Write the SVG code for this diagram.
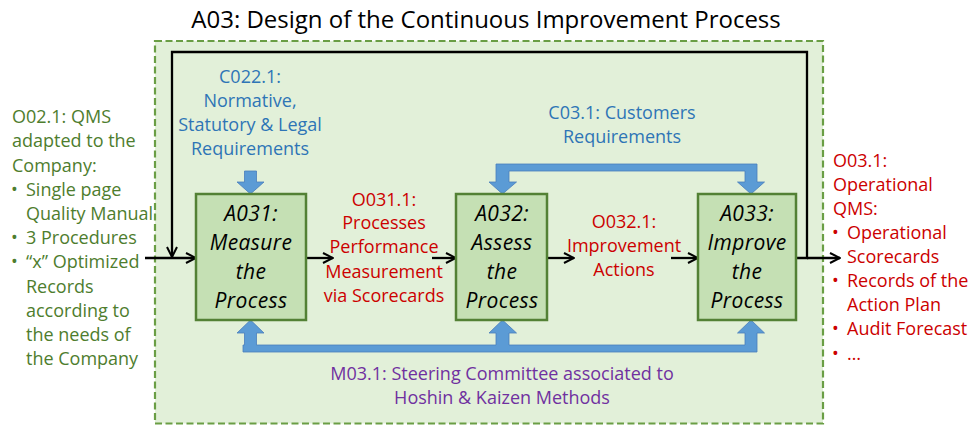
<svg xmlns="http://www.w3.org/2000/svg" width="968" height="425" viewBox="0 0 968 425">
<defs>
<style>
text{font-family:"Open Sans","Noto Sans","Liberation Sans",sans-serif;font-size:18px}
.title{font-size:24px;fill:#000}
.g{fill:#4E7D2E}
.r{fill:#CC0000}
.b{fill:#2E75B6}
.p{fill:#7030A0}
.c{text-anchor:middle}
.lbl{font-style:italic;font-size:21px;letter-spacing:0.4px;fill:#000;text-anchor:middle}
.box{fill:#C5E0B4;stroke:#538135;stroke-width:2.5}
.ln{fill:none;stroke:#000;stroke-width:2.3}
.blue{fill:#5B9BD5;stroke:#4A7EBB;stroke-width:0.8}
</style>
<marker id="ah" viewBox="0 0 12 12" refX="11" refY="6" markerWidth="12" markerHeight="12" markerUnits="userSpaceOnUse" orient="auto">
<path d="M1,1 L11,6 L1,11" fill="none" stroke="#000" stroke-width="2"/>
</marker>
</defs>
<rect width="968" height="425" fill="#fff"/>
<text class="title c" x="486" y="28">A03: Design of the Continuous Improvement Process</text>
<rect id="boundary" x="155" y="41" width="668" height="382.5" fill="#E2F0D9" stroke="#6A9E45" stroke-width="2.2" stroke-dasharray="7,3.5"/>

<g id="connectors">
<line class="ln" x1="145" y1="258" x2="196" y2="258" marker-end="url(#ah)"/>
<polyline class="ln" points="796,258 807,258 807,52 172,52 172,257" marker-end="url(#ah)"/>
<line class="ln" x1="807" y1="258" x2="840" y2="258" marker-end="url(#ah)"/>
<line class="ln" x1="306" y1="258" x2="333" y2="258" marker-end="url(#ah)"/>
<line class="ln" x1="432" y1="258" x2="456" y2="258" marker-end="url(#ah)"/>
<line class="ln" x1="547" y1="258" x2="574" y2="258" marker-end="url(#ah)"/>
<line class="ln" x1="671" y1="258" x2="698" y2="258" marker-end="url(#ah)"/>
<path id="c022" class="blue" d="M244.5,171 H256.5 V182 H264 L250.5,194 L237,182 H244.5 Z"/>
<path id="c03" class="blue" d="M496,164 H757 V182 H764.5 L751,194 L737.5,182 H745 V171 H509 V182 H516.5 L502.5,194 L489,182 H496 Z"/>
<path id="m03" class="blue" d="M243,352 H757 V333 H764.5 L751,320 L737.5,333 H745 V345 H509 V333 H516.5 L502.5,320 L489,333 H496 V345 H256.5 V333 H264 L250.5,320 L237,333 H244.5 V345 H243 Z"/>
</g>

<g id="A031">
<rect class="box" x="196" y="194" width="110" height="126"/>
<text class="lbl" x="251" y="221">A031:</text>
<text class="lbl" x="251" y="250">Measure</text>
<text class="lbl" x="251" y="279">the</text>
<text class="lbl" x="251" y="308">Process</text>
</g>
<g id="A032">
<rect class="box" x="456" y="194" width="91" height="126"/>
<text class="lbl" x="502" y="221">A032:</text>
<text class="lbl" x="502" y="250">Assess</text>
<text class="lbl" x="502" y="279">the</text>
<text class="lbl" x="502" y="308">Process</text>
</g>
<g id="A033">
<rect class="box" x="698" y="194" width="98" height="126"/>
<text class="lbl" x="747" y="221">A033:</text>
<text class="lbl" x="747" y="250">Improve</text>
<text class="lbl" x="747" y="279">the</text>
<text class="lbl" x="747" y="308">Process</text>
</g>

<g id="input-O02">
<text class="g" x="12" y="123">O02.1: QMS</text>
<text class="g" x="12" y="147">adapted to the</text>
<text class="g" x="12" y="172">Company:</text>
<text class="g" x="11" y="196">•</text><text class="g" x="26" y="196">Single page</text>
<text class="g" x="26" y="220">Quality Manual</text>
<text class="g" x="11" y="244">•</text><text class="g" x="26" y="244">3 Procedures</text>
<text class="g" x="11" y="268">•</text><text class="g" x="26" y="268">“x” Optimized</text>
<text class="g" x="26" y="293">Records</text>
<text class="g" x="26" y="317">according to</text>
<text class="g" x="26" y="341">the needs of</text>
<text class="g" x="26" y="365">the Company</text>
</g>

<g id="output-O03">
<text class="r" x="833" y="167">O03.1:</text>
<text class="r" x="833" y="191">Operational</text>
<text class="r" x="833" y="215">QMS:</text>
<text class="r" x="832" y="239">•</text><text class="r" x="847" y="239">Operational</text>
<text class="r" x="847" y="263">Scorecards</text>
<text class="r" x="832" y="287">•</text><text class="r" x="847" y="287">Records of the</text>
<text class="r" x="847" y="311">Action Plan</text>
<text class="r" x="832" y="335">•</text><text class="r" x="847" y="335">Audit Forecast</text>
<text class="r" x="832" y="360">•</text><text class="r" x="847" y="360">…</text>
</g>

<g id="control-C022">
<text class="b c" x="250" y="83">C022.1:</text>
<text class="b c" x="250" y="107">Normative,</text>
<text class="b c" x="250" y="131">Statutory &amp; Legal</text>
<text class="b c" x="250" y="155">Requirements</text>
</g>
<g id="control-C03">
<text class="b c" x="622" y="119">C03.1: Customers</text>
<text class="b c" x="622" y="143">Requirements</text>
</g>
<g id="output-O031">
<text class="r c" x="384" y="206">O031.1:</text>
<text class="r c" x="384" y="229">Processes</text>
<text class="r c" x="384" y="253">Performance</text>
<text class="r c" x="384" y="278">Measurement</text>
<text class="r c" x="384" y="302">via Scorecards</text>
</g>
<g id="output-O032">
<text class="r c" x="624" y="228">O032.1:</text>
<text class="r c" x="624" y="252">Improvement</text>
<text class="r c" x="624" y="276">Actions</text>
</g>
<g id="mechanism-M03">
<text class="p c" x="502" y="380">M03.1: Steering Committee associated to</text>
<text class="p c" x="502" y="404">Hoshin &amp; Kaizen Methods</text>
</g>
</svg>
